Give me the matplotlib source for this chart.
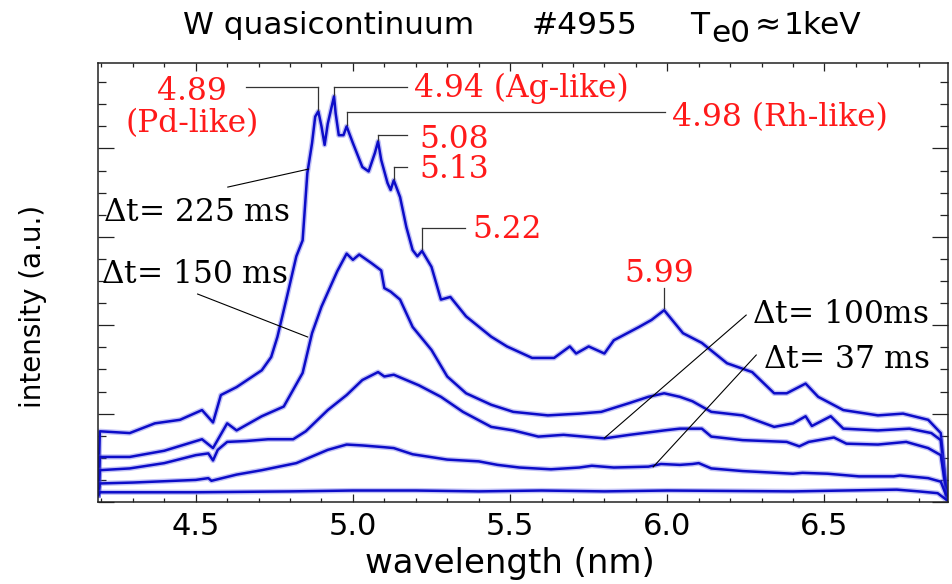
import numpy as np
import matplotlib.pyplot as plt
from matplotlib.ticker import MultipleLocator

# W quasicontinuum spectra, shot #4955, for several integration times
wl_225 = [4.19, 4.195, 4.29, 4.37, 4.45, 4.52, 4.555, 4.58, 4.63, 4.71,
          4.74, 4.76, 4.79, 4.82, 4.84, 4.855, 4.87, 4.88, 4.89, 4.90,
          4.91, 4.92, 4.94, 4.945, 4.955, 4.97, 4.98, 5.00, 5.03, 5.05,
          5.07, 5.08, 5.09, 5.11, 5.12, 5.13, 5.15, 5.17, 5.19, 5.205,
          5.22, 5.25, 5.28, 5.31, 5.36, 5.44, 5.49, 5.57, 5.64, 5.69,
          5.71, 5.75, 5.80, 5.83, 5.91, 5.95, 5.99, 6.02, 6.05, 6.11,
          6.19, 6.27, 6.34, 6.38, 6.44, 6.48, 6.56, 6.67, 6.75, 6.83,
          6.87, 6.89]
int_225 = [0.08, 0.80, 0.78, 0.89, 0.93, 1.04, 0.90, 1.21, 1.30, 1.49,
           1.64, 1.87, 2.32, 2.78, 2.96, 3.72, 4.06, 4.36, 4.42, 4.25,
           4.04, 4.28, 4.59, 4.40, 4.15, 4.15, 4.25, 4.06, 3.79, 3.74,
           3.95, 4.08, 3.87, 3.61, 3.53, 3.64, 3.45, 3.11, 2.85, 2.78,
           2.84, 2.66, 2.29, 2.32, 2.10, 1.87, 1.76, 1.63, 1.63, 1.76,
           1.68, 1.76, 1.68, 1.83, 1.98, 2.06, 2.17, 2.04, 1.91, 1.80,
           1.57, 1.47, 1.23, 1.23, 1.34, 1.19, 1.04, 0.98, 1.00, 0.93,
           0.78, 0.06]

wl_150 = [4.19, 4.195, 4.29, 4.40, 4.52, 4.555, 4.60, 4.63, 4.71, 4.78,
          4.84, 4.87, 4.90, 4.95, 4.98, 5.00, 5.02, 5.06, 5.09, 5.10,
          5.12, 5.15, 5.19, 5.25, 5.30, 5.36, 5.44, 5.51, 5.62, 5.72,
          5.79, 5.88, 5.94, 5.99, 6.04, 6.08, 6.14, 6.24, 6.34, 6.40,
          6.44, 6.46, 6.52, 6.56, 6.67, 6.77, 6.84, 6.87, 6.89]
int_150 = [0.08, 0.51, 0.51, 0.58, 0.71, 0.61, 0.89, 0.81, 0.97, 1.08,
           1.46, 1.91, 2.21, 2.61, 2.81, 2.74, 2.80, 2.70, 2.62, 2.42,
           2.38, 2.29, 1.98, 1.72, 1.42, 1.23, 1.10, 1.02, 0.98, 1.00,
           1.02, 1.12, 1.19, 1.23, 1.19, 1.14, 1.02, 0.98, 0.85, 0.89,
           0.97, 0.86, 0.97, 0.83, 0.81, 0.83, 0.78, 0.70, 0.06]

wl_100 = [4.19, 4.195, 4.29, 4.40, 4.50, 4.54, 4.555, 4.57, 4.60, 4.66,
          4.73, 4.81, 4.85, 4.92, 4.98, 5.03, 5.08, 5.10, 5.13, 5.21,
          5.28, 5.35, 5.44, 5.51, 5.59, 5.67, 5.80, 5.88, 5.99, 6.04,
          6.11, 6.14, 6.24, 6.38, 6.42, 6.45, 6.53, 6.57, 6.67, 6.76,
          6.83, 6.87, 6.89]
int_100 = [0.08, 0.36, 0.38, 0.44, 0.53, 0.55, 0.47, 0.59, 0.68, 0.69,
           0.71, 0.71, 0.80, 1.04, 1.21, 1.38, 1.47, 1.42, 1.44, 1.32,
           1.19, 1.02, 0.85, 0.81, 0.74, 0.76, 0.72, 0.76, 0.81, 0.83,
           0.83, 0.74, 0.70, 0.68, 0.63, 0.68, 0.73, 0.66, 0.65, 0.68,
           0.61, 0.53, 0.06]

wl_37 = [4.19, 4.195, 4.30, 4.50, 4.54, 4.55, 4.63, 4.71, 4.82, 4.86,
         4.92, 4.98, 5.03, 5.10, 5.13, 5.19, 5.30, 5.40, 5.46, 5.53,
         5.63, 5.72, 5.76, 5.83, 5.94, 5.98, 6.04, 6.08, 6.10, 6.14,
         6.24, 6.40, 6.43, 6.51, 6.61, 6.72, 6.74, 6.83, 6.87, 6.89]
int_37 = [0.08, 0.21, 0.22, 0.25, 0.27, 0.24, 0.31, 0.36, 0.44, 0.50,
          0.59, 0.65, 0.64, 0.62, 0.61, 0.54, 0.48, 0.46, 0.42, 0.39,
          0.37, 0.39, 0.41, 0.39, 0.40, 0.43, 0.42, 0.43, 0.44, 0.38,
          0.35, 0.32, 0.33, 0.32, 0.29, 0.29, 0.30, 0.27, 0.23, 0.05]

wl_bg = [4.19, 4.195, 4.5, 4.8, 5.0, 5.2, 5.4, 5.6, 5.8, 6.0,
         6.4, 6.73, 6.8, 6.86, 6.89]
int_bg = [0.08, 0.11, 0.11, 0.12, 0.13, 0.13, 0.12, 0.13, 0.12, 0.13,
          0.12, 0.14, 0.12, 0.10, 0.02]

# line identifications on the 225 ms spectrum
peak_wl = [4.89, 4.94, 4.98, 5.08, 5.13, 5.22, 5.99]
peak_txt = ['4.89', '4.94 (Ag-like)', '4.98 (Rh-like)', '5.08', '5.13', '5.22', '5.99']

dt_labels = [r'$\Delta$t= 225 ms', r'$\Delta$t= 150 ms', r'$\Delta$t= 100ms', r'$\Delta$t= 37 ms']

BLUE = '#0c0cc8'
RED = '#ff1a1a'

fig = plt.figure(figsize=(9.52, 5.84), dpi=100)
ax = fig.add_axes([0.1029, 0.1404, 0.8929, 0.7522])

for wl, inten in [(wl_225, int_225), (wl_150, int_150), (wl_100, int_100),
                  (wl_37, int_37), (wl_bg, int_bg)]:
    ax.plot(wl, inten, color='#5050e6', lw=3.8, alpha=0.35, solid_joinstyle='round')
    ax.plot(wl, inten, color=BLUE, lw=1.8, solid_joinstyle='round')

ax.set_xlim(4.189, 6.893)
ax.set_ylim(0, 4.97)

ax.xaxis.set_major_locator(MultipleLocator(0.5))
ax.xaxis.set_minor_locator(MultipleLocator(0.1))
ax.yaxis.set_major_locator(MultipleLocator(1))
ax.yaxis.set_minor_locator(MultipleLocator(0.25))
ax.xaxis.set_major_formatter(lambda v, p: f'{v:.1f}')
ax.tick_params(which='both', direction='in', top=True, right=True,
               labelleft=False, color='#222222', width=0.9)
ax.tick_params(axis='x', which='major', length=6, labelsize=22, pad=7)
ax.tick_params(axis='x', which='minor', length=3)
ax.tick_params(axis='y', which='major', length=11.5)
ax.tick_params(axis='y', which='minor', length=6)
for sp in ax.spines.values():
    sp.set_linewidth(1.1)
    sp.set_color('#222222')

ax.set_xlabel('wavelength (nm)', fontsize=24.5)
ax.xaxis.set_label_coords(0.484, -0.139)
ax.xaxis.label.set_va('center')
ax.set_ylabel('intensity (a.u.)', fontsize=20)
ax.yaxis.set_label_coords(-0.077, 0.445)
ax.yaxis.label.set_va('center')

# title pieces, positioned in figure pixels
W, H = 952, 584
ttl = dict(fontsize=22.5, va='baseline')
fig.text(183 / W, 1 - 34 / H, 'W quasicontinuum', **ttl)
fig.text(532 / W, 1 - 34 / H, '#4955', **ttl)
fig.text(690 / W, 1 - 34 / H, 'T', **ttl)
fig.text(711 / W, 1 - 42 / H, 'e0', **ttl)
fig.text(755 / W, 1 - 34 / H, '\u2248', **ttl)
fig.text(784 / W, 1 - 34 / H, '1keV', **ttl)

serif = 'DejaVu Serif'

# peak brackets: (bracket height, horizontal end, text x, text baseline, ha)
brk = [(4.69, 4.659, 4.488, 4.548, 'center'),
       (4.69, 5.173, 5.194, 4.585, 'left'),
       (4.41, 5.993, 6.016, 4.253, 'left'),
       (4.15, 5.173, 5.210, 4.005, 'left'),
       (3.79, 5.173, 5.210, 3.665, 'left'),
       (3.10, 5.358, 5.379, 2.986, 'left'),
       (2.42, None, 5.975, 2.492, 'center')]
for wl, txt, (by, bx, tx, ty, ha) in zip(peak_wl, peak_txt, brk):
    top = np.interp(wl, wl_225, int_225)
    ax.plot([wl, wl], [top + 0.02, by], color='#333333', lw=0.9)
    if bx is not None:
        ax.plot([wl, bx], [by, by], color='#333333', lw=0.9)
    ax.text(tx, ty, txt, color=RED, fontsize=22.5, family=serif, ha=ha, va='baseline')
ax.text(4.489, 4.189, '(Pd-like)', color=RED, fontsize=22.5, family=serif,
        ha='center', va='baseline')

# integration time labels with leader lines
dt_pos = [(4.206, 3.182), (4.198, 2.477), (6.269, 2.028), (6.306, 1.512)]
dt_lead = [((4.602, 3.563), (4.859, 3.767)),
           ((4.506, 2.353), (4.856, 1.867)),
           ((6.251, 2.115), (5.800, 0.724)),
           ((6.283, 1.663), (5.955, 0.396))]
for lab, (tx, ty), (p0, p1) in zip(dt_labels, dt_pos, dt_lead):
    ax.plot([p0[0], p1[0]], [p0[1], p1[1]], color='k', lw=0.8)
    ax.text(tx, ty, lab, fontsize=22.5, family=serif, ha='left', va='baseline',
            math_fontfamily='dejavuserif')

fig.savefig('out.png', dpi=100)
